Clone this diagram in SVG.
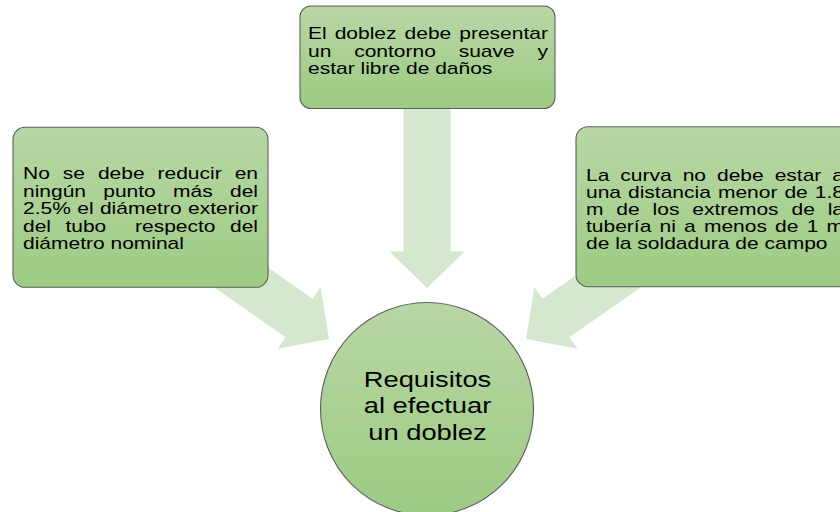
<svg xmlns="http://www.w3.org/2000/svg" width="840" height="512" viewBox="0 0 840 512">
<defs>
<linearGradient id="gfill" x1="0" y1="0" x2="0" y2="1">
<stop offset="0" stop-color="#b8d7a5"/>
<stop offset="1" stop-color="#9dcb83"/>
</linearGradient>
<style>
.node{fill:url(#gfill);stroke:#5e5e5e;stroke-width:1.1}
.arrow{fill:#d6e7cf;stroke:none}
.t{font-family:"Liberation Sans",Arial,sans-serif;font-size:17.21px;fill:#000}
.c{font-family:"Liberation Sans",Arial,sans-serif;font-size:22.4px;fill:#000;text-anchor:middle}
</style>
</defs>
<rect width="840" height="512" fill="#ffffff"/>
<g id="connectors">
<polygon class="arrow" transform="translate(427,288) rotate(90)" points="-188,-23.5 -36.5,-23.5 -36.5,-37.5 0,0 -36.5,37.5 -36.5,23.5 -188,23.5"/>
<polygon class="arrow" transform="translate(329,339) rotate(35)" points="-150,-23.5 -36.5,-23.5 -36.5,-37.5 0,0 -36.5,37.5 -36.5,23.5 -150,23.5"/>
<polygon class="arrow" transform="translate(526,339) rotate(145)" points="-150,-23.5 -36.5,-23.5 -36.5,-37.5 0,0 -36.5,37.5 -36.5,23.5 -150,23.5"/>
</g>
<g id="node-top">
<rect class="node" x="300" y="6" width="255" height="102.5" rx="11"/>
<g transform="scale(1.22,1)">
<text class="t" y="39.3"><tspan x="252.459">El</tspan><tspan x="274.336">doblez</tspan><tspan x="331.623">debe</tspan><tspan x="376.475">presentar</tspan></text>
<text class="t" y="56.6"><tspan x="252.459">un</tspan><tspan x="290.287">contorno</tspan><tspan x="375.951">suave</tspan><tspan x="440.566">y</tspan></text>
<text class="t" y="73.9" x="252.459">estar libre de daños</text>
</g>
</g>
<g id="node-left">
<rect class="node" x="13" y="127.3" width="255" height="160" rx="12"/>
<g transform="scale(1.22,1)">
<text class="t" y="179.3"><tspan x="18.852">No</tspan><tspan x="51.459">se</tspan><tspan x="80.246">debe</tspan><tspan x="129.131">reducir</tspan><tspan x="192.344">en</tspan></text>
<text class="t" y="196.8"><tspan x="18.852">ningún</tspan><tspan x="84.664">punto</tspan><tspan x="141.869">más</tspan><tspan x="188.525">del</tspan></text>
<text class="t" y="214.3"><tspan x="18.852">2.5%</tspan><tspan x="63.303">el</tspan><tspan x="81.918">diámetro</tspan><tspan x="154.098">exterior</tspan></text>
<text class="t" y="231.8"><tspan x="18.852">del</tspan><tspan x="53.607">tubo</tspan><tspan x="110.697">respecto</tspan><tspan x="188.508">del</tspan></text>
<text class="t" y="249.3" x="18.852">diámetro nominal</text>
</g>
</g>
<g id="node-right">
<rect class="node" x="576" y="126.7" width="290" height="160" rx="12"/>
<g transform="scale(1.22,1)">
<text class="t" y="180.7"><tspan x="480.328">La</tspan><tspan x="508.467">curva</tspan><tspan x="559.557">no</tspan><tspan x="587.697">debe</tspan><tspan x="634.975">estar</tspan><tspan x="682.238">a</tspan></text>
<text class="t" y="197.9"><tspan x="480.328">una</tspan><tspan x="514.787">distancia</tspan><tspan x="588.459">menor</tspan><tspan x="642.984">de</tspan><tspan x="667.869">1.8</tspan></text>
<text class="t" y="215.1"><tspan x="480.328">m</tspan><tspan x="505.205">de</tspan><tspan x="534.885">los</tspan><tspan x="567.426">extremos</tspan><tspan x="648.746">de</tspan><tspan x="678.426">la</tspan></text>
<text class="t" y="232.3"><tspan x="480.328">tubería</tspan><tspan x="540.615">ni</tspan><tspan x="560.713">a</tspan><tspan x="576.992">menos</tspan><tspan x="635.352">de</tspan><tspan x="661.197">1</tspan><tspan x="677.475">m</tspan></text>
<text class="t" y="249.5" x="480.328">de la soldadura de campo</text>
</g>
</g>
<g id="node-center">
<circle class="node" cx="427" cy="409" r="106.5"/>
<g transform="scale(1.22,1)">
<text class="c" x="350.41" y="387.3">Requisitos</text>
<text class="c" x="350.41" y="413.5">al efectuar</text>
<text class="c" x="350.41" y="440">un doblez</text>
</g>
</g>
</svg>
